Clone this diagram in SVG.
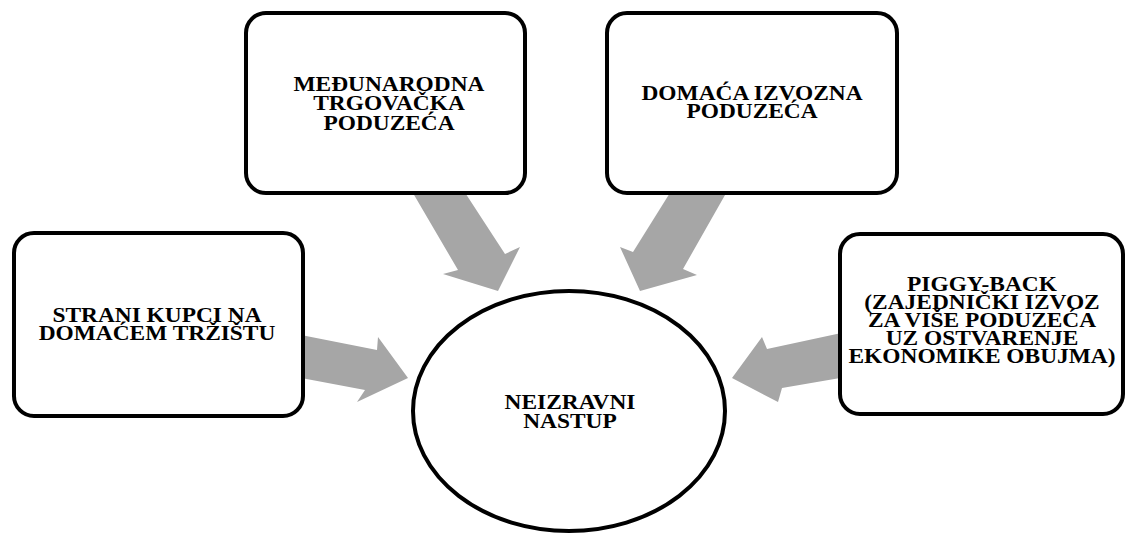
<svg xmlns="http://www.w3.org/2000/svg" width="1126" height="534" viewBox="0 0 1126 534">
<style>
.box{fill:#fff;stroke:#000;stroke-width:4}
.arrow{fill:#a6a6a6;stroke:none}
.t{font-family:"Liberation Serif","Times New Roman",serif;font-weight:bold;font-size:20px;fill:#000;text-anchor:middle}
</style>
<rect width="1126" height="534" fill="#fff"/>
<g id="connectors">
<polygon class="arrow" points="410,188 462,188 505,254 520,247 498,291 443,274 458,270"/>
<polygon class="arrow" points="673,188 729,188 683,269 697,275 640,291 620,247 633,252"/>
<polygon class="arrow" points="296,334 377,350 378,337 408,378 357,402 365,390 296,377"/>
<polygon class="arrow" points="846,332 767,349 762,337 732,378 778,402 782,388 846,377"/>
</g>
<g id="node-center">
<ellipse class="box" cx="569" cy="411" rx="156" ry="120" stroke-width="3.5"/>
<g transform="translate(570,0) scale(1.17,1)">
<text class="t" x="0" y="409">NEIZRAVNI</text>
<text class="t" x="0" y="428">NASTUP</text>
</g>
</g>
<g id="node-medjunarodna">
<rect class="box" x="246" y="13" width="279" height="180" rx="20"/>
<g transform="translate(389,0) scale(1.17,1)">
<text class="t" x="0" y="91">MEĐUNARODNA</text>
<text class="t" x="0" y="110">TRGOVAČKA</text>
<text class="t" x="0" y="130">PODUZEĆA</text>
</g>
</g>
<g id="node-domaca">
<rect class="box" x="607" y="13" width="290" height="180" rx="20"/>
<g transform="translate(752,0) scale(1.17,1)">
<text class="t" x="0" y="100">DOMAĆA IZVOZNA</text>
<text class="t" x="0" y="118.5">PODUZEĆA</text>
</g>
</g>
<g id="node-strani">
<rect class="box" x="14" y="233" width="289" height="183" rx="20"/>
<g transform="translate(157,0) scale(1.17,1)">
<text class="t" x="0" y="322">STRANI KUPCI NA</text>
<text class="t" x="0" y="340">DOMAĆEM TRŽIŠTU</text>
</g>
</g>
<g id="node-piggyback">
<rect class="box" x="840" y="234" width="283" height="180" rx="20"/>
<g transform="translate(982,0) scale(1.17,1)">
<text class="t" x="0" y="291">PIGGY-BACK</text>
<text class="t" x="0" y="309">(ZAJEDNIČKI IZVOZ</text>
<text class="t" x="0" y="327">ZA VIŠE PODUZEĆA</text>
<text class="t" x="0" y="345">UZ OSTVARENJE</text>
<text class="t" x="0" y="363">EKONOMIKE OBUJMA)</text>
</g>
</g>
</svg>
